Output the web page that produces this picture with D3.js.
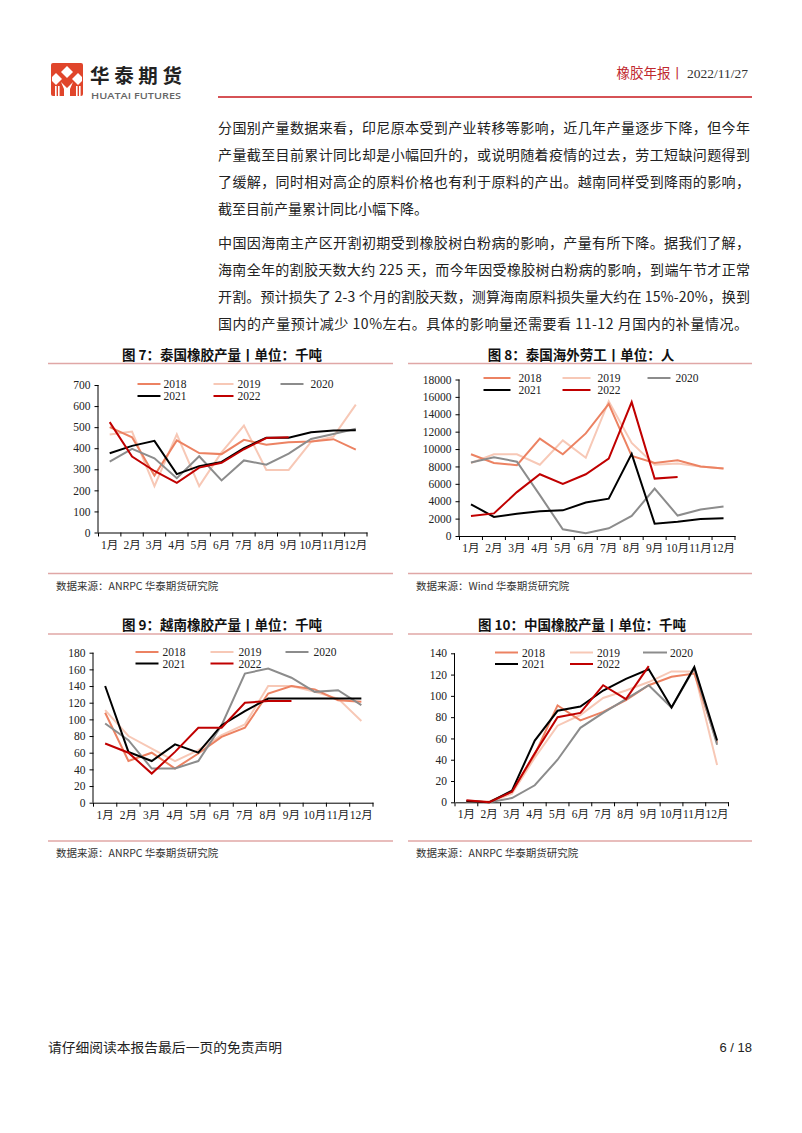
<!DOCTYPE html>
<html><head><meta charset="utf-8">
<script src="https://cdn.jsdelivr.net/npm/d3@7"></script>
<style>body{margin:0;background:#fff}svg{display:block}</style>
</head><body>
<svg id="page" width="802" height="1133"></svg>
<script>
// ---------------- data ----------------
const months = ["1月","2月","3月","4月","5月","6月","7月","8月","9月","10月","11月","12月"];
const years = ["2018","2019","2020","2021","2022"];

const thai2018 = [500, 452, 270, 437, 377, 372, 440, 416, 428, 432, 443, 393];
const thai2019 = [465, 479, 220, 466, 220, 380, 507, 297, 297, 430, 455, 607];
const thai2020 = [336, 397, 352, 258, 362, 247, 342, 322, 374, 444, 467, 492];
const thai2021 = [376, 411, 435, 277, 315, 335, 400, 450, 450, 476, 484, 485];
const thai2022 = [524, 360, 292, 236, 308, 331, 395, 448, 452];
const thaiTicks = [0, 100, 200, 300, 400, 500, 600, 700];

const labor2018 = [9400, 8400, 8150, 11200, 9400, 11800, 15200, 9200, 8400, 8700, 8000, 7750];
const labor2019 = [8400, 9400, 9400, 8200, 11000, 9000, 15500, 10700, 8200, 8350, 8000, 7750];
const labor2020 = [8450, 9050, 8550, 4700, 770, 330, 880, 2300, 5450, 2350, 3050, 3400];
const labor2021 = [3650, 2200, 2550, 2850, 2950, 3850, 4300, 9450, 1420, 1650, 1950, 2050];
const labor2022 = [2300, 2600, 5050, 7100, 6000, 7100, 8900, 15400, 6600, 6800];
const laborTicks = [0, 2000, 4000, 6000, 8000, 10000, 12000, 14000, 16000, 18000];

const vn2018 = [108, 50, 60, 41, 59, 79, 90, 131, 140, 136, 123, 121];
const vn2019 = [111, 80, 65, 50, 63, 81, 94, 140, 140, 133, 125, 98];
const vn2020 = [95, 75, 41, 41, 50, 93, 155, 161, 150, 133, 135, 117];
const vn2021 = [140, 61, 50, 70, 60, 93, 110, 125, 125, 125, 125, 125];
const vn2022 = [71, 60, 35, 61, 90, 90, 120, 122, 122];
const vnTicks = [0, 20, 40, 60, 80, 100, 120, 140, 160, 180];

const cn2018 = [1, 0.5, 10, 45, 91, 77, 85, 96, 110, 118, 121, 56];
const cn2019 = [1, 0, 8, 42, 72, 82, 98, 105, 113, 123, 123, 35];
const cn2020 = [1, 0, 4, 16, 40, 70, 84, 97, 110, 89, 126, 54];
const cn2021 = [1, 0, 11, 58, 86, 90, 105, 116, 125, 89, 127, 58];
const cn2022 = [2, 0, 10, 46, 80, 84, 110, 97, 128];
const cnTicks = [0, 20, 40, 60, 80, 100, 120, 140];

const para1 = [
  "分国别产量数据来看，印尼原本受到产业转移等影响，近几年产量逐步下降，但今年",
  "产量截至目前累计同比却是小幅回升的，或说明随着疫情的过去，劳工短缺问题得到",
  "了缓解，同时相对高企的原料价格也有利于原料的产出。越南同样受到降雨的影响，",
  "截至目前产量累计同比小幅下降。"
];
const para2 = [
  "中国因海南主产区开割初期受到橡胶树白粉病的影响，产量有所下降。据我们了解，",
  "海南全年的割胶天数大约 225 天，而今年因受橡胶树白粉病的影响，到端午节才正常",
  "开割。预计损失了 2-3 个月的割胶天数，测算海南原料损失量大约在 15%-20%，换到",
  "国内的产量预计减少 10%左右。具体的影响量还需要看 11-12 月国内的补量情况。"
];

// ---------------- styles ----------------
const seriesColors = ["#EC8262", "#F7C8B6", "#8C8C8C", "#000000", "#C00000"];
const drawOrder = [1, 0, 2, 3, 4];
const sansCJK = "'Noto Sans CJK SC','Noto Sans',sans-serif";
const serif = "'Liberation Serif','Times New Roman','Noto Sans CJK SC',serif";
const rule = "#E0A7A6";

const svg = d3.select("#page");
svg.append("rect").attr("width", 802).attr("height", 1133).attr("fill", "#fff");

// ---------------- header ----------------
const logo = svg.append("g");
logo.append("rect").attr("x", 51).attr("y", 63).attr("width", 32).attr("height", 33).attr("rx", 2).attr("fill", "#E0452B");
const wp = [
  [[67,66],[73,72],[67,78],[61,72]],
  [[56,73],[62,79],[56,85],[52,81],[52,77]],
  [[78,73],[82,77],[82,81],[78,85],[72,79]],
  [[61,82],[67,88],[67,96],[64,96],[64,89]],
  [[73,82],[70,89],[70,96],[67,96],[67,88]]
];
wp.forEach(p => logo.append("polygon").attr("points", p.map(q => q.join(",")).join(" ")).attr("fill", "#fff"));
[[55,86],[58,86],[76,86],[79,86]].forEach(p => logo.append("rect").attr("x", p[0]).attr("y", p[1]).attr("width", 1.6).attr("height", 10).attr("fill", "#fff"));

svg.append("text").attr("x", 90).attr("y", 83).attr("font-family", sansCJK).attr("font-weight", 700)
  .attr("font-size", 19.5).attr("fill", "#222").attr("textLength", 92).text("华泰期货");
svg.append("text").attr("x", 91).attr("y", 98.5).attr("font-family", "'Open Sans','DejaVu Sans',sans-serif").attr("font-weight", 600)
  .attr("font-size", 9).attr("fill", "#666").attr("textLength", 90).attr("lengthAdjust", "spacingAndGlyphs").text("HUATAI FUTURES");

const hdr = svg.append("text").attr("x", 748).attr("y", 78).attr("text-anchor", "end").attr("font-size", 13.5);
hdr.append("tspan").attr("fill", "#C0282E").attr("font-family", "'Noto Sans CJK SC',serif").text("橡胶年报丨 ");
hdr.append("tspan").attr("fill", "#333").attr("font-family", serif).text("2022/11/27");
svg.append("line").attr("x1", 218).attr("x2", 752).attr("y1", 97).attr("y2", 97).attr("stroke", "#C8181E").attr("stroke-width", 1.6);

// ---------------- paragraphs ----------------
function paragraph(lines, y0) {
  lines.forEach((t, i) => {
    const tx = svg.append("text").attr("x", 218).attr("y", y0 + i * 27).attr("font-family", sansCJK)
      .attr("font-size", 14).attr("fill", "#222").text(t);
    if (i < lines.length - 1) tx.attr("textLength", 532).attr("lengthAdjust", "spacing");
    else if (i === 3 && t.length > 30) tx.attr("textLength", 530).attr("lengthAdjust", "spacing");
  });
}
paragraph(para1, 133);
paragraph(para2, 248);

// ---------------- charts ----------------
function drawChart(c) {
  const g = svg.append("g");
  g.append("text").attr("x", c.titleX).attr("y", c.titleY).attr("text-anchor", "middle")
    .attr("font-family", sansCJK).attr("font-weight", 700).attr("font-size", 13.5).attr("fill", "#111").text(c.title);
  g.append("line").attr("x1", c.fx0).attr("x2", c.fx1).attr("y1", c.ruleTop).attr("y2", c.ruleTop).attr("stroke", rule).attr("stroke-width", 1.5);
  g.append("line").attr("x1", c.fx0).attr("x2", c.fx1).attr("y1", c.ruleBot).attr("y2", c.ruleBot).attr("stroke", rule).attr("stroke-width", 1.5);
  g.append("text").attr("x", c.fx0 + 8).attr("y", c.ruleBot + 16).attr("font-family", sansCJK)
    .attr("font-size", 10.5).attr("fill", "#333").text(c.source);

  const x = d3.scaleBand().domain(months).range([c.x0, c.x1]).padding(0);
  const y = d3.scaleLinear().domain([0, d3.max(c.ticks)]).range([c.yBot, c.yTop]);

  const ya = g.append("g").attr("transform", `translate(${c.x0},0)`)
    .call(d3.axisLeft(y).tickValues(c.ticks).tickSize(4).tickPadding(4).tickFormat(d3.format("d")));
  ya.select(".domain").attr("stroke", "#000").attr("d", `M-0.5,${c.yTop}V${c.yBot}`);
  ya.selectAll(".tick line").attr("stroke", "#000");
  ya.selectAll("text").attr("font-family", serif).attr("font-size", 11.5).attr("fill", "#222");

  const xa = g.append("g").attr("transform", `translate(0,${c.yBot})`)
    .call(d3.axisBottom(x).tickSize(0).tickPadding(8));
  xa.select(".domain").attr("stroke", "#000");
  xa.selectAll("text").attr("font-family", serif).attr("font-size", 11.5).attr("fill", "#222");
  months.concat([null]).forEach((m, i) => {
    const xx = m === null ? c.x1 : x(m);
    g.append("line").attr("x1", xx).attr("x2", xx).attr("y1", c.yBot).attr("y2", c.yBot + 4).attr("stroke", "#000");
  });

  const line = d3.line().x((d, i) => x(months[i]) + x.bandwidth() / 2).y(d => y(d));
  drawOrder.forEach(k => {
    g.append("path").datum(c.series[k]).attr("fill", "none").attr("stroke", seriesColors[k])
      .attr("stroke-width", 2).attr("stroke-linejoin", "miter").attr("d", line);
  });

  // legend
  years.forEach((yr, k) => {
    const col = k < 3 ? k : k - 3, row = k < 3 ? 0 : 1;
    const L = c.legend[col];
    const ly = c.legY[row];
    g.append("line").attr("x1", c.x0 + L[0]).attr("x2", c.x0 + L[1]).attr("y1", ly).attr("y2", ly)
      .attr("stroke", seriesColors[k]).attr("stroke-width", 2);
    g.append("text").attr("x", c.x0 + L[2]).attr("y", ly + 4).attr("font-family", serif)
      .attr("font-size", 11.5).attr("fill", "#222").text(yr);
  });
}

drawChart({
  title: "图 7：泰国橡胶产量丨单位：千吨", titleX: 222, titleY: 360,
  fx0: 48, fx1: 393, ruleTop: 363.5, ruleBot: 573.5, source: "数据来源：ANRPC  华泰期货研究院",
  x0: 98.5, x1: 367, yTop: 385, yBot: 532.5, ticks: thaiTicks,
  series: [thai2018, thai2019, thai2020, thai2021, thai2022],
  legend: [[39, 62, 65], [115, 135, 139], [182, 205, 212]], legY: [384, 396]
});
drawChart({
  title: "图 8：泰国海外劳工丨单位：人", titleX: 581, titleY: 360,
  fx0: 408, fx1: 752, ruleTop: 363.5, ruleBot: 573.5, source: "数据来源：Wind  华泰期货研究院",
  x0: 459.5, x1: 735, yTop: 379.5, yBot: 536, ticks: laborTicks,
  series: [labor2018, labor2019, labor2020, labor2021, labor2022],
  legend: [[24, 51, 59], [103, 131, 138], [188, 211, 216]], legY: [378, 390]
});
drawChart({
  title: "图 9：越南橡胶产量丨单位：千吨", titleX: 222, titleY: 630,
  fx0: 48, fx1: 393, ruleTop: 634, ruleBot: 841, source: "数据来源：ANRPC  华泰期货研究院",
  x0: 93.5, x1: 373, yTop: 652.7, yBot: 802.7, ticks: vnTicks,
  series: [vn2018, vn2019, vn2020, vn2021, vn2022],
  legend: [[42, 65, 69], [117, 140, 145], [192, 215, 220]], legY: [652, 663.5]
});
drawChart({
  title: "图 10：中国橡胶产量丨单位：千吨", titleX: 582, titleY: 630,
  fx0: 408, fx1: 752, ruleTop: 634, ruleBot: 841, source: "数据来源：ANRPC  华泰期货研究院",
  x0: 455, x1: 728.5, yTop: 653.3, yBot: 802.3, ticks: cnTicks,
  series: [cn2018, cn2019, cn2020, cn2021, cn2022],
  legend: [[40, 63, 67], [115, 138, 142], [188, 212, 215]], legY: [652.5, 664]
});

// ---------------- footer ----------------
svg.append("text").attr("x", 48).attr("y", 1052).attr("font-family", sansCJK).attr("font-size", 13)
  .attr("fill", "#222").attr("textLength", 234).attr("lengthAdjust", "spacingAndGlyphs").text("请仔细阅读本报告最后一页的免责声明");
svg.append("text").attr("x", 752).attr("y", 1052).attr("text-anchor", "end").attr("font-family", "'Liberation Sans Narrow','Liberation Sans',sans-serif")
  .attr("font-size", 13).attr("fill", "#222").text("6 / 18");
</script>
</body></html>
